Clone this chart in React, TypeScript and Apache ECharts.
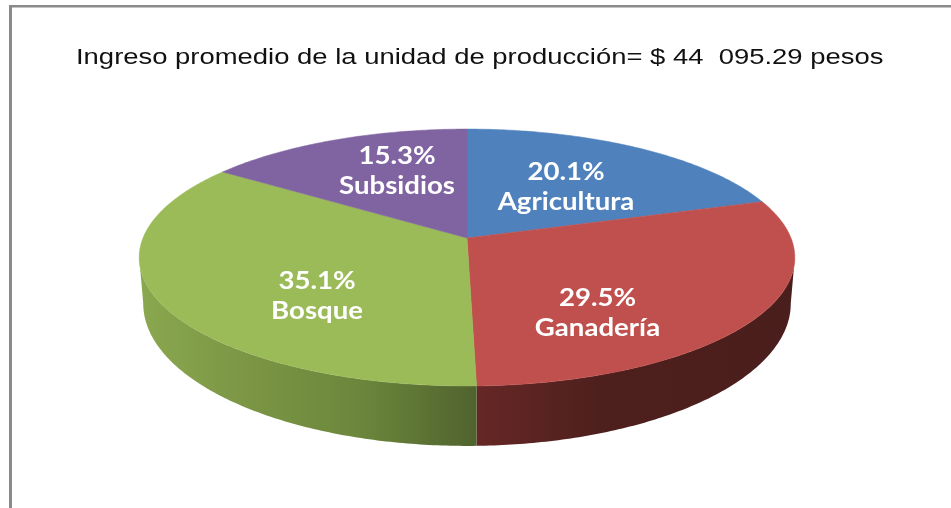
import React, { useEffect, useRef } from "react";
import * as echarts from "echarts";

const categories = ["Agricultura", "Ganadería", "Bosque", "Subsidios"];
const shares = [20.1, 29.5, 35.1, 15.3];
const topColors = ["#4f81bd", "#c0504d", "#9bbb59", "#8064a2"];
const titleText = "Ingreso promedio de la unidad de producción= $ 44  095.29 pesos";

// Perspective layout of the pie disc
const CX = 467, TOP_Y0 = 238, TOP_R = 324, TOP_S = 125.5, PERSP = 0.152;
const BOT_Y0 = 282, BOT_R = 320, BOT_S = 139;
const labelCenters = [[566, 186], [597.5, 312], [317, 295], [397, 170]];
const LABEL_STRETCH = 1.15, TITLE_STRETCH = 1.247;

const rad = (d: number) => (d * Math.PI) / 180;
const project = (deg: number, y0: number, r: number, s: number) => {
  const u = Math.sin(rad(deg)), v = -Math.cos(rad(deg));
  const w = 1 - PERSP * v;
  return [CX + (r * u) / w, y0 + (s * v) / w];
};
const arc = (a: number, b: number, y0: number, r: number, s: number) => {
  const n = Math.max(2, Math.ceil(Math.abs(b - a) * 1.5));
  return Array.from({ length: n + 1 }, (_, i) => project(a + ((b - a) * i) / n, y0, r, s));
};
const sideGradients: Record<number, any[]> = {
  1: [[0, "#662726"], [0.38, "#4e201d"], [1, "#4a1e1c"]],
  2: [[0, "#8aa84f"], [0.35, "#7a9444"], [0.65, "#6c873c"], [1, "#50632e"]],
};
const VIS_A = 98.7, VIS_B = 261.3;

export default function App() {
  const ref = useRef<HTMLDivElement>(null);
  useEffect(() => {
    const chart = echarts.init(ref.current!, undefined, { renderer: "svg" });
    const total = shares.reduce((a, b) => a + b, 0);
    const seriesData = shares.map((v, i) => {
      const start = shares.slice(0, i).reduce((a, b) => a + b, 0);
      return { name: categories[i], value: [start, v] };
    });
    chart.setOption({
      animation: false,
      backgroundColor: "#ffffff",
      graphic: [
        { type: "rect", shape: { x: 9, y: 5, width: 3, height: 503 }, style: { fill: "#8a8a8a" }, silent: true },
        { type: "rect", shape: { x: 9, y: 5, width: 942, height: 2.5 }, style: { fill: "#8a8a8a" }, silent: true },
        {
          type: "text", x: 76, y: 56, scaleX: TITLE_STRETCH, silent: true,
          style: { text: titleText, fill: "#111111", font: "22px Liberation Sans", verticalAlign: "middle" },
        },
      ],
      series: [
        {
          type: "custom",
          coordinateSystem: "none",
          data: seriesData,
          renderItem: (params: any, api: any) => {
            const i = params.dataIndex;
            const a = (api.value(0) / total) * 360;
            const b = ((api.value(0) + api.value(1)) / total) * 360;
            const children: any[] = [];
            const sa = Math.max(a, VIS_A), sb = Math.min(b, VIS_B);
            if (sb > sa) {
              const pts = [...arc(sa, sb, TOP_Y0, TOP_R, TOP_S), ...arc(sb, sa, BOT_Y0, BOT_R, BOT_S)];
              children.push({
                type: "polygon",
                z2: 1,
                shape: { points: pts },
                style: {
                  fill: new echarts.graphic.LinearGradient(0, 0, 1, 0,
                    (sideGradients[i] || [[0, topColors[i]], [1, topColors[i]]]).map(([offset, color]) => ({ offset, color }))),
                },
              });
            }
            children.push({
              type: "polygon",
              z2: 2,
              shape: { points: [[CX, TOP_Y0], ...arc(a, b, TOP_Y0, TOP_R, TOP_S)] },
              style: { fill: topColors[i], stroke: topColors[i], lineWidth: 0.5 },
            });
            const [lx, ly] = labelCenters[i];
            const pctLabel = `${shares[i].toFixed(1)}%`;
            children.push({
              type: "text", z2: 5, x: lx, y: ly - 15, scaleX: LABEL_STRETCH,
              style: { text: pctLabel, fill: "#ffffff", font: "bold 24px Lato", align: "center", verticalAlign: "middle" },
            });
            children.push({
              type: "text", z2: 5, x: lx, y: ly + 15, scaleX: LABEL_STRETCH,
              style: { text: categories[i], fill: "#ffffff", font: "bold 24px Lato", align: "center", verticalAlign: "middle" },
            });
            return { type: "group", children };
          },
        },
      ],
    });
    return () => chart.dispose();
  }, []);
  return <div ref={ref} style={{ position: "fixed", left: 0, top: 0, width: 951, height: 508, filter: "blur(0.4px)" }} />;
}
